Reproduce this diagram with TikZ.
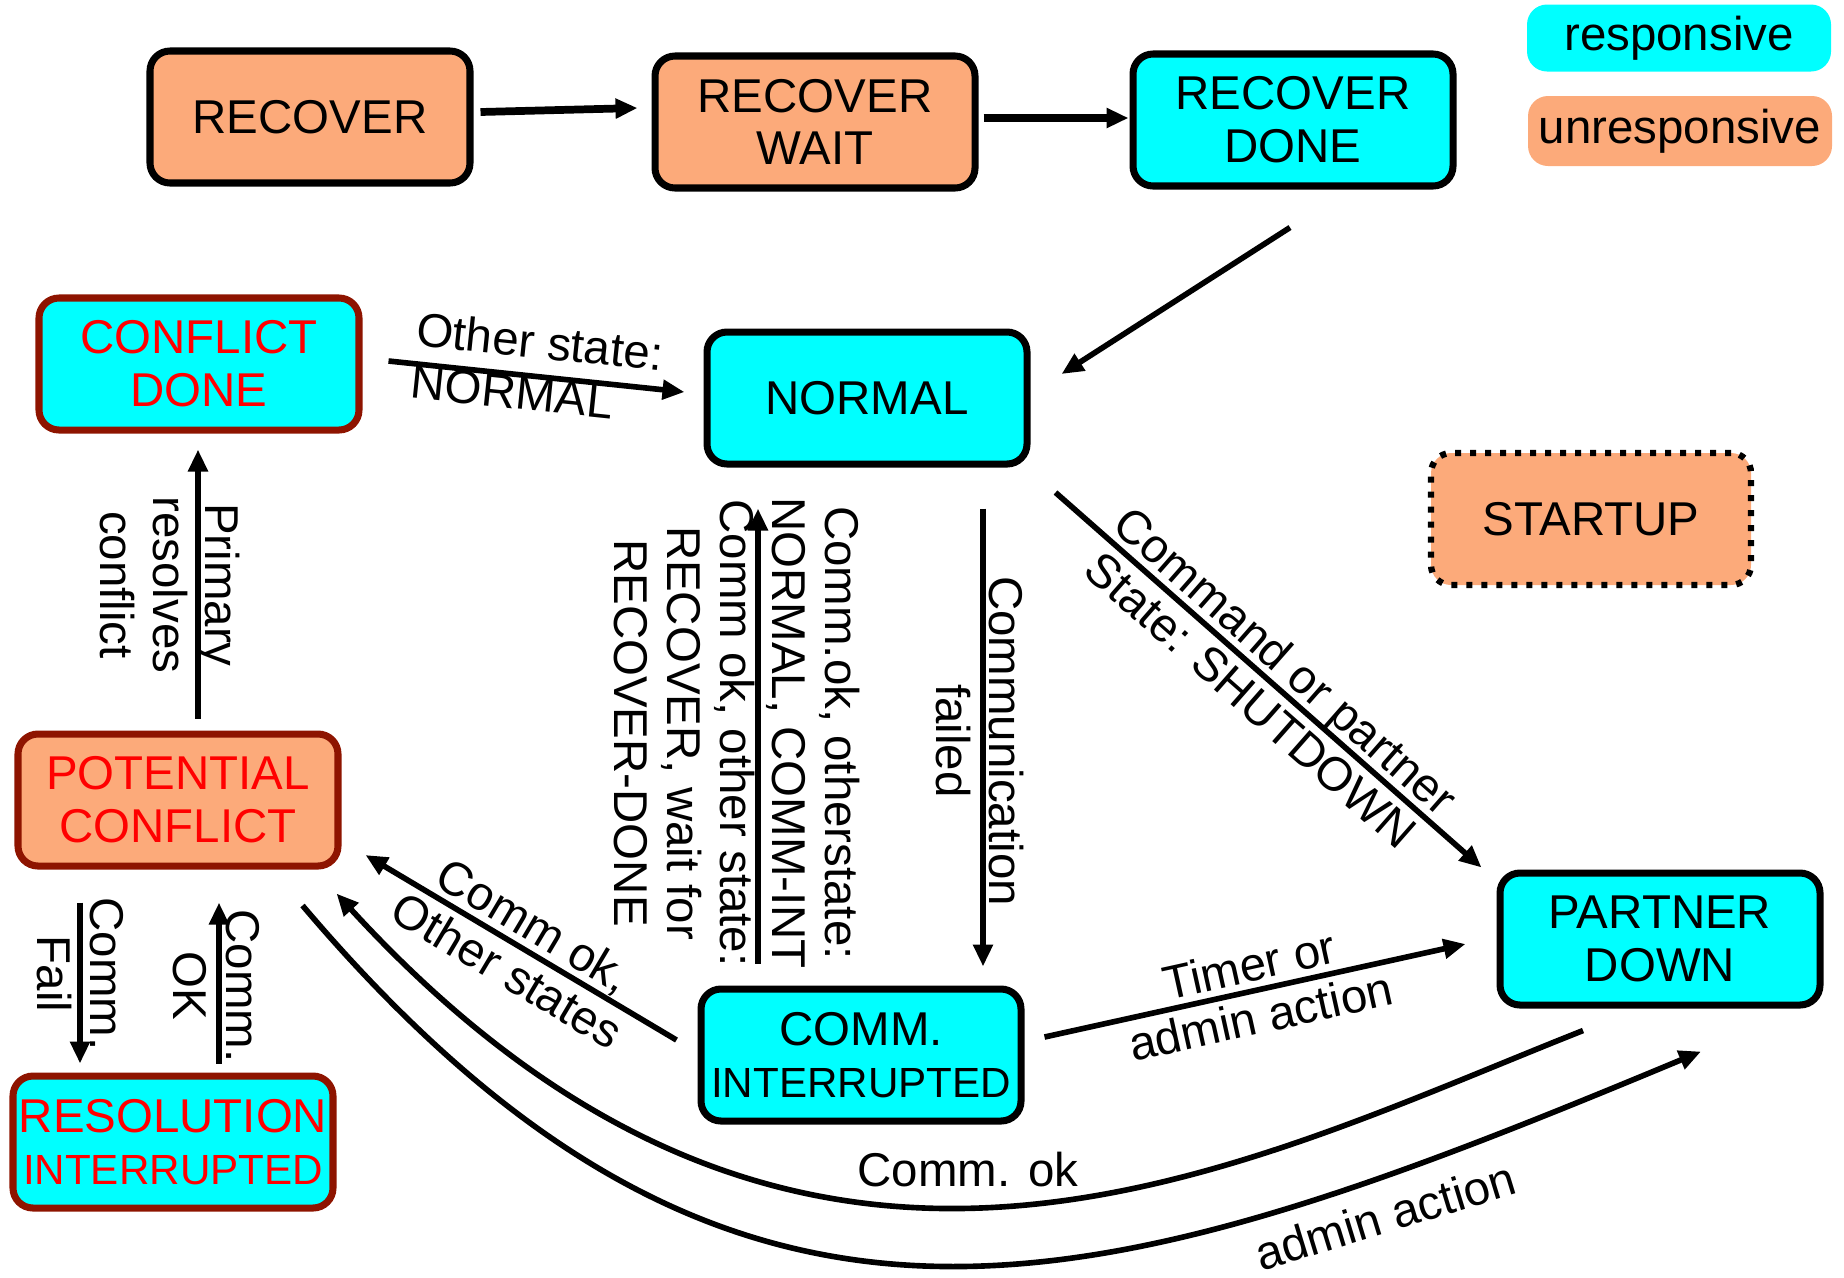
\documentclass[tikz,border=0pt]{standalone}
\usepackage{fontspec}
\setmainfont{Liberation Sans}
\usetikzlibrary{arrows.meta,positioning,calc}
\definecolor{resp}{HTML}{00FFFF}
\definecolor{unresp}{HTML}{FCAA7A}
\definecolor{rim}{HTML}{8E1400}
\definecolor{alert}{HTML}{FF0000}
\newcommand{\smallcaps}[1]{{\fontsize{12}{15}\selectfont #1}}
\tikzset{
  statebox/.style={draw=black,line width=2pt,rounded corners=2mm,
    minimum width=32mm,minimum height=13.2mm,align=center,inner sep=1pt,
    font=\fontsize{13.5}{15}\selectfont},
  conflict/.style={draw=rim,text=alert},
  legend/.style={rounded corners=2mm,minimum width=30.4mm,minimum height=6.7mm,
    inner sep=1pt,font=\fontsize{13.5}{15}\selectfont},
  arrow/.style={-{Triangle[length=2.2mm,width=1.9mm]},line width=1.6pt,draw=black},
  edgetext/.style={font=\fontsize{13.5}{15}\selectfont,align=center,inner sep=1pt}
}
\begin{document}
\begin{tikzpicture}[x=0.1mm,y=-0.1mm]
  \useasboundingbox (0,0) rectangle (1844,1277);

  \node[statebox,fill=unresp] (recover) at (310,117) {RECOVER};
  \node[statebox,fill=unresp] (wait) at (815,122) {RECOVER\\WAIT};
  \node[statebox,fill=resp] (done) at (1293,120) {RECOVER\\DONE};
  \node[legend,fill=resp] (keyresp) at (1679,38) {responsive};
  \node[legend,fill=unresp,minimum height=7mm] (keyunresp) at (1680,131) {unresponsive};

  \node[statebox,fill=resp,conflict] (cdone) at (199,364) {CONFLICT\\DONE};
  \node[statebox,fill=resp] (normal) at (867,398) {NORMAL};
  \node[statebox,fill=unresp,line width=1.8pt,dash pattern=on 0.6mm off 0.9mm] (startup)
    at (1591,519) {STARTUP};
  \node[statebox,fill=unresp,conflict] (potential) at (178,800) {POTENTIAL\\CONFLICT};
  \node[statebox,fill=resp,conflict] (resolution) at (173,1142)
    {RESOLUTION\\\smallcaps{INTERRUPTED}};
  \node[statebox,fill=resp] (comm) at (861,1055) {COMM.\\\smallcaps{INTERRUPTED}};
  \node[statebox,fill=resp] (partner) at (1660,939) {PARTNER\\DOWN};

  \draw[arrow,line width=2.2pt] ($(recover.east)+(7,-5)$) -- ($(wait.west)+(-14,-14)$);
  \draw[arrow,line width=2.2pt] ($(wait.east)+(5,-4)$) -- ($(done.west)+(-1,-2)$);
  \draw[arrow] ($(done.south)+(-3,38)$) -- ($(normal.east)+(31,-24)$);
  \draw[arrow] ($(cdone.east)+(26,-3)$) --
    node[edgetext,sloped,align=left,yshift=0.9mm] (othernormal) {Other state:\\NORMAL}
    ($(normal.west)+(-19,-6)$);

  \draw[arrow] ($(potential.north)+(20,-12)$) -- ($(cdone.south)+(-1,16)$);
  \node[edgetext,rotate=-90] (primarytxt) at (170,585) {Primary\\resolves\\conflict};
  \draw[arrow] ($(potential.south)+(-98,33)$) -- ($(resolution.north)+(-93,-9)$);
  \node[edgetext,rotate=-90] (failtxt) at (80,974) {Comm.\\Fail};
  \draw[arrow] ($(resolution.north)+(46,-9)$) -- ($(potential.south)+(41,33)$);
  \node[edgetext,rotate=-90] (oktxt) at (216,986) {Comm.\\OK};

  \draw[arrow] ($(comm.west)+(-21,-15)$) --
    node[edgetext,sloped] (commoktxt) {Comm ok,\\Other states}
    ($(potential.east)+(24,55)$);

  \draw[arrow] ($(normal.south)+(116,41)$) -- ($(comm.north)+(122,-19)$);
  \node[edgetext,rotate=-90] (failedtxt) at (980,741) {Communication\\failed};
  \draw[arrow] ($(comm.north)+(-103,-22)$) -- ($(normal.south)+(-109,41)$);
  \node[edgetext,rotate=-90] (backtxt) at (737,733)
    {Comm.ok, otherstate:\\NORMAL, COMM-INT\\Comm ok, other state:\\RECOVER, wait for\\RECOVER-DONE};

  \draw[arrow] ($(normal.south east)+(25,25)$) --
    node[edgetext,sloped] (shutdowntxt) {Command or partner\\State: SHUTDOWN}
    ($(partner.north west)+(-15,-2)$);
  \draw[arrow] ($(comm.east)+(20,-18)$) --
    node[edgetext,sloped] (timertxt) {Timer or\\admin action}
    ($(partner.west)+(-31,5)$);

  \draw[arrow] ($(partner.south)+(-77,22)$) .. controls (1226,1172) and (801,1400) ..
    ($(potential.south east)+(-5,24)$);
  \node[edgetext] (commoktwo) at (968,1170) {Comm. ok};
  \draw[arrow] ($(potential.south east)+(-39,36)$) .. controls (739,1420) and (1100,1302) ..
    ($(partner.south)+(41,43)$);
  \node[edgetext,rotate=17] (admintxt) at (1385,1216) {admin action};
\end{tikzpicture}
\end{document}
